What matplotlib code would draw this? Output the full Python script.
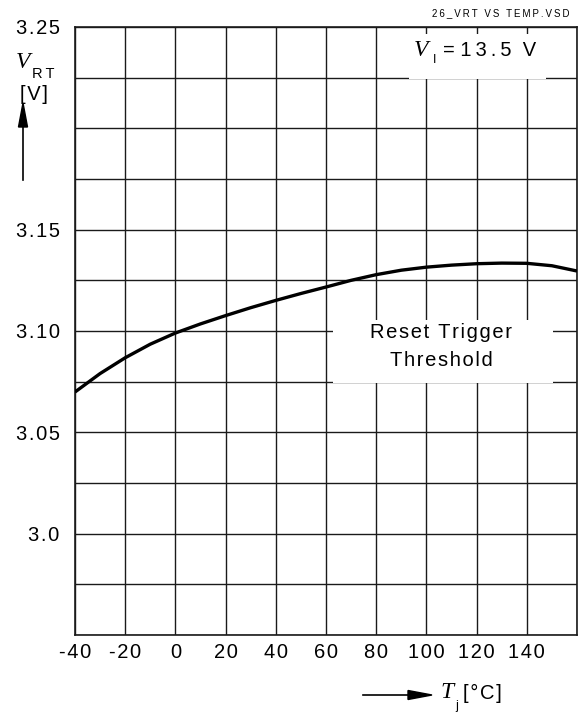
import matplotlib
matplotlib.use("Agg")
import matplotlib.pyplot as plt
from matplotlib.patches import Rectangle

# junction temperature [degC] and reset trigger threshold [V]
temps = [-40, -30, -20, -10, 0, 10, 20, 30, 40, 50, 60, 70, 80, 90, 100,
         110, 120, 130, 140, 150, 160]
vrt = [3.0699, 3.0790, 3.0868, 3.0935, 3.0990, 3.1035, 3.1076, 3.1115,
       3.1151, 3.1185, 3.1217, 3.1250, 3.1278, 3.1300, 3.1315, 3.1325,
       3.1332, 3.1335, 3.1334, 3.1322, 3.1296]

xgrid = [-40, -20, 0, 20, 40, 60, 80, 100, 120, 140, 160]
xtick_labels = ["-40", "-20", "0", "20", "40", "60", "80", "100", "120", "140", ""]
ygrid = [2.95, 2.975, 3.0, 3.025, 3.05, 3.075, 3.10, 3.125, 3.15, 3.175,
         3.20, 3.225, 3.25]
ylabeled = {3.25: "3.25", 3.15: "3.15", 3.10: "3.10", 3.05: "3.05", 3.0: "3.0"}

W, H = 578, 713
NARROW = ["Liberation Sans Narrow", "Liberation Sans", "DejaVu Sans"]
SERIF = ["Liberation Serif", "DejaVu Serif"]


def sp(s, gap="\u200a"):
    # the original drawing uses letter-spaced text
    return gap.join(s)


def px(x, y):
    return x / W, 1 - y / H


fig = plt.figure(figsize=(W / 100, H / 100), dpi=100)
ax = fig.add_axes([75 / W, 78 / H, 502 / W, 608 / H])

ax.plot(temps, vrt, color="black", lw=2.4, solid_capstyle="butt", zorder=4)

ax.set_xlim(-40, 160)
ax.set_ylim(2.95, 3.25)
ax.set_xticks(xgrid)
ax.set_xticklabels([sp(t) for t in xtick_labels], family=NARROW, fontsize=14.5)
ax.set_yticks(ygrid)
ax.set_yticklabels([sp(ylabeled.get(round(v, 3), "")) for v in ygrid],
                   family=NARROW, fontsize=14.5)
ax.tick_params(length=0)
ax.tick_params(axis="x", pad=6)
ax.tick_params(axis="y", pad=11)
ax.grid(True, color="#1a1a1a", lw=1.0)
ax.set_axisbelow(True)
for s in ax.spines.values():
    s.set_color("#1a1a1a")
    s.set_linewidth(1.2)

# white label boxes that blank out the grid
ax.add_patch(Rectangle((0.514, 0.4145), 0.438, 0.1036, transform=ax.transAxes,
                       facecolor="white", edgecolor="none", zorder=3))
ax.add_patch(Rectangle((0.665, 0.9145), 0.273, 0.074, transform=ax.transAxes,
                       facecolor="white", edgecolor="none", zorder=3))

fig.text(*px(441, 332), sp("Reset Trigger"), family=NARROW, fontsize=14.5,
         ha="center", va="center")
fig.text(*px(441, 361), sp("Threshold"), family=NARROW, fontsize=14.5,
         ha="center", va="center")

fig.text(*px(421, 50), "V", family=SERIF, style="italic", fontsize=17,
         ha="center", va="center")
fig.text(*px(435, 60), "I", family=NARROW, fontsize=9, ha="center", va="center")
fig.text(*px(443, 50), "= " + sp("13.5", "\u2009") + "  V", family=NARROW,
         fontsize=14.5, ha="left", va="center")

fig.text(*px(501, 13), sp("26_VRT VS TEMP.VSD", "\u2009"), family=NARROW,
         fontsize=7, ha="center", va="center")

# y-axis label with arrow
fig.text(*px(23, 63), "V", family=SERIF, style="italic", fontsize=17,
         ha="center", va="center")
fig.text(*px(43, 74), sp("RT", "\u2009"), family=NARROW, fontsize=10.5,
         ha="center", va="center")
fig.text(*px(34, 95), sp("[V]"), family=NARROW, fontsize=14.5, ha="center", va="center")
fig.add_artist(plt.Line2D([23 / W, 23 / W], [1 - 180 / H, 1 - 125 / H],
                          color="black", lw=1.2))
fig.patches.append(plt.Polygon([px(23, 103), px(18.5, 127), px(27.5, 127)],
                               closed=True, color="black", transform=fig.transFigure))

# x-axis label with arrow
fig.add_artist(plt.Line2D([363 / W, 410 / W], [1 - 695 / H, 1 - 695 / H],
                          color="black", lw=1.2))
fig.patches.append(plt.Polygon([px(432, 695), px(408, 690.5), px(408, 699.5)],
                               closed=True, color="black", transform=fig.transFigure))
fig.text(*px(447, 693), "T", family=SERIF, style="italic", fontsize=17,
         ha="center", va="center")
fig.text(*px(457, 706), "j", family=NARROW, fontsize=9, ha="center", va="center")
fig.text(*px(463, 693), sp("[°C]"), family=NARROW, fontsize=14.5,
         ha="left", va="center")

fig.savefig("out.png", dpi=100)
